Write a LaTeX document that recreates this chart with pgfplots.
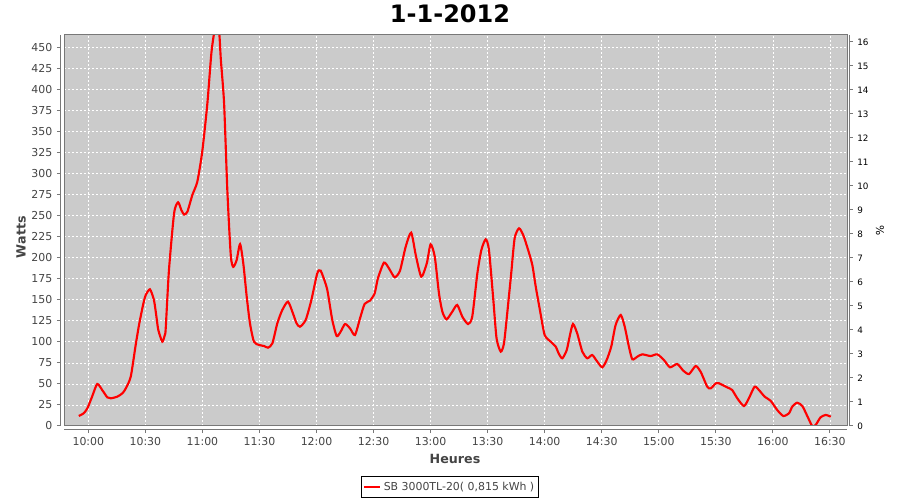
\documentclass[border=0pt]{standalone}
\usepackage{pgfplots}
\pgfplotsset{compat=1.18}
\usepackage{pgfplotstable}
\usepackage{fontspec}
\setmainfont{DejaVu Sans}
\definecolor{plotbg}{RGB}{203,203,203}
\definecolor{axgray}{RGB}{120,120,120}
\definecolor{lblgray}{RGB}{68,68,68}

\pgfplotstableread{
m w
-5.0 11.9
-2.5 15
-0.5 21
2.0 35
4.7 49.9
7.5 42
10.0 34
11.8 32.9
15.2 34.8
18.0 39
19.7 44.7
22.3 58.6
24.9 96.2
26.5 118
27.5 129.8
29.0 146
30.2 155.5
32.4 162.3
34.5 149.6
35.8 130
36.8 114
38.9 100.1
40.2 108
40.7 116
42.4 185
45.1 252.5
47.2 265.6
49.0 256
50.4 251
52.1 254.5
54.7 274.3
57.3 290
59.9 325.7
62.6 383
64.7 442.5
66.4 470
67.7 476
68.9 465
69.7 434.6
71.4 383
73.1 280
74.9 203
76.2 189
78.0 197
79.8 216
81.5 193
83.3 153.5
85.0 122
87.1 100.1
89.8 96.2
92.4 95
94.5 93
96.8 98.2
99.4 122
102.0 137.7
105.0 147.6
107.6 133.8
109.5 122
111.3 117.9
114.3 125.9
117.3 149.6
120.4 181.3
122.2 184.4
125.0 167.4
126.0 157.6
128.3 125.9
130.6 106.9
132.7 112
135.0 121.1
137.6 116
140.2 108
142.9 127.9
145.3 144.9
148.1 148.8
150.6 157.6
152.3 175.4
155.5 194
158.1 187.2
161.1 176.6
163.9 184.4
166.9 212.9
169.8 229.5
172.2 203
175.1 177.3
178.0 193.2
180.0 215.7
182.2 201
184.4 157.6
186.2 135.7
188.4 126.7
191.4 135.7
194.0 143.7
196.7 129.8
199.7 121.1
201.9 129.8
204.6 181.3
206.7 209
209.0 221.7
210.7 209
213.0 149.6
214.7 104
216.9 88.3
218.6 98.2
220.3 133.8
222.4 181.3
224.2 222.9
226.5 234.7
228.7 226.8
231.2 209.8
233.5 191.2
235.3 165.4
237.5 137.7
240.0 108
243.2 100.1
245.8 94.2
247.5 85.5
249.3 80.4
251.6 90.2
253.3 108
254.9 121.1
257.1 110
259.8 88.3
262.4 80.4
265.0 84.3
267.7 76.3
270.3 69.7
272.6 78.4
275.0 94.2
277.3 119.9
280.0 131.8
282.1 117.9
284.3 94.2
286.1 79.2
288.7 82.3
291.3 85.1
295.7 83.1
299.2 85.1
302.7 78.4
305.9 69.7
309.7 73.6
312.9 65.7
315.9 61.7
319.4 71.2
322.0 64.5
325.5 46.7
327.3 44.7
330.1 50.7
331.7 50.7
336.0 45.9
338.6 42.7
341.3 32.9
344.8 23.7
347.4 32.9
350.4 46.7
352.7 42.7
355.7 34.8
358.8 30
362.3 19
365.5 11.9
368.5 15.1
370.2 22.9
372.8 27.7
375.5 23.7
378.1 11.9
380.7 0
382.5 1.2
385.1 10.3
387.8 13.1
390.5 11
}\powertable

\begin{document}
\begin{tikzpicture}
\path[use as bounding box] (0,0) rectangle (675pt,375pt);
\begin{axis}[
  at={(48pt,55.5pt)}, anchor=south west,
  scale only axis, width=587.25pt, height=293.25pt,
  xmin=-12.8, xmax=399, ymin=0, ymax=464.3,
  axis x line*=bottom, axis y line*=left,
  axis line shift=3pt,
  axis line style={axgray, line width=0.75pt, -},
  xtick={0,30,...,390},
  xticklabels={10:00,10:30,11:00,11:30,12:00,12:30,13:00,13:30,14:00,14:30,15:00,15:30,16:00,16:30},
  ytick={0,25,...,450},
  tick align=outside, major tick length=2.25pt,
  tick style={axgray, line width=0.75pt},
  ticklabel style={font=\fontsize{8.2}{9}\selectfont, text=lblgray},
  /pgf/number format/assume math mode=true,
  grid=major, grid style={white, dash pattern=on 1.5pt off 1.5pt, line width=0.5pt},
  axis background/.style={fill=plotbg},
  clip mode=individual,
  xlabel={Heures}, ylabel={Watts},
  label style={font=\bfseries\fontsize{9.5}{11}\selectfont, text=lblgray},
  xlabel style={at={(axis description cs:0.4994,-0.0844)}, anchor=center},
  ylabel style={at={(axis description cs:-0.0549,0.483)}, anchor=center},
  legend style={at={(0.493,-0.128)}, anchor=north, draw=black, line width=0.75pt,
    font=\fontsize{8.2}{9}\selectfont, text=lblgray, inner xsep=1pt, inner ysep=2pt},
  legend cell align=left,
]
\addplot[red, line width=1.6pt, smooth, tension=0.4,
  legend image code/.code={\draw[red, line width=1.5pt] (0pt,0pt) -- (12pt,0pt);}]
  table[x=m, y=w] {\powertable};
\addlegendentry{SB 3000TL-20( 0,815 kWh )}
\draw[axgray, line width=0.75pt] (rel axis cs:0,0) rectangle (rel axis cs:1,1);
\end{axis}
\begin{axis}[
  at={(48pt,55.5pt)}, anchor=south west,
  scale only axis, width=587.25pt, height=293.25pt,
  xmin=-12.8, xmax=399, ymin=0, ymax=16.29,
  axis x line=none, axis y line*=right,
  axis line shift=2pt,
  axis line style={axgray, line width=0.75pt, -},
  ytick={0,1,...,16},
  tick align=outside, major tick length=2.25pt,
  tick style={axgray, line width=0.75pt},
  ticklabel style={font=\fontsize{6.6}{7}\selectfont, text=black},
  /pgf/number format/assume math mode=true,
  ylabel={\%},
  ylabel style={at={(axis description cs:1.042,0.501)}, anchor=center, rotate=180, font=\fontsize{8}{9}\selectfont},
]
\addplot[draw=none] coordinates {(0,0)};
\end{axis}
\node[font=\bfseries\fontsize{18}{21}\selectfont, text=black] at (337.5pt,364.5pt) {1-1-2012};
\end{tikzpicture}
\end{document}
